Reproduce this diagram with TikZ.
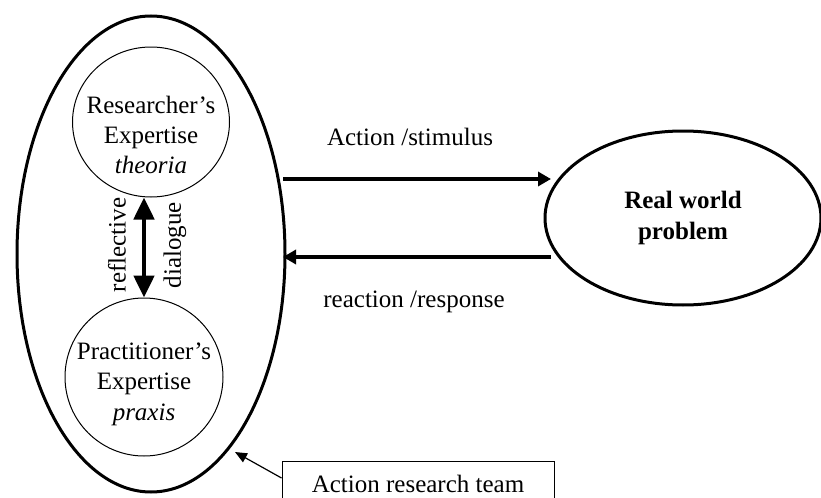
\documentclass[tikz,border=0pt]{standalone}
\usepackage{fontspec}
\setmainfont{Liberation Serif}
\usetikzlibrary{positioning,arrows.meta,shapes.geometric}

\begin{document}
\begin{tikzpicture}[
    x=0.5pt, y=-0.5pt,
    font=\fontsize{12.5}{15.2}\selectfont,
    expertise/.style={
      draw,
      ellipse,
      line width=0.5pt,
      inner sep=0pt
    },
    flow/.style={
      line width=2pt,
      -{Triangle[length=6.5pt,width=7pt]}
    }
  ]

    \useasboundingbox (0,0) rectangle (821,498);

    % Equipo
    \node[draw, ellipse, line width=1.5pt, minimum width=134pt, minimum height=238pt] (team) at (151,254) {};

    \node[expertise, minimum width=78.5pt, minimum height=75pt] (research) at (151,122) {};
    \node[align=center, inner sep=0pt] (researchtext) at ([yshift=-6.5pt]research.center) {Researcher's\\Expertise\\\textit{theoria}};

    \node[expertise, minimum width=79pt, minimum height=79pt] (practice) at (144,377) {};
    \node[align=center, inner sep=0pt] (practicetext) at ([yshift=-3.5pt]practice.center) {Practitioner's\\Expertise\\\textit{praxis}};

    % Dialogo
    \draw[line width=2.4pt, {Triangle[length=11pt,width=10pt]}-{Triangle[length=11pt,width=10pt]}]
      (practice.north |- research.south) -- (practice.north);
    \node[rotate=90] (reflective) at (117,245) {reflective};
    \node[rotate=90] (dialogue) at (175,245) {dialogue};

    % Problema
    \node[draw, ellipse, line width=1.5pt, align=center, font=\fontsize{12.5}{15.5}\selectfont\bfseries,
      minimum width=138pt, minimum height=87pt] (problem) at (683,218)
      {Real world\\problem};

    % Accion y reaccion
    \coordinate (actout) at (283,179);
    \coordinate (actin) at (551,179);
    \coordinate (reout) at (551,257);
    \coordinate (rein) at (283,257);
    \draw[flow] (actout) -- (actin);
    \draw[flow] (reout) -- (rein);
    \node (stimulus) at (410,137) {Action /stimulus};
    \node (response) at (414,302) {reaction /response};

    % Etiqueta
    \node[draw, line width=0.5pt, minimum width=136pt, minimum height=23pt] (label) at (418,484)
      {Action research team};
    \coordinate (labeltip) at (235,452);
    \draw[line width=0.6pt, -{Triangle[length=6pt,width=5pt]}] ([yshift=3pt]label.west) -- (labeltip);

  \end{tikzpicture}
\end{document}
